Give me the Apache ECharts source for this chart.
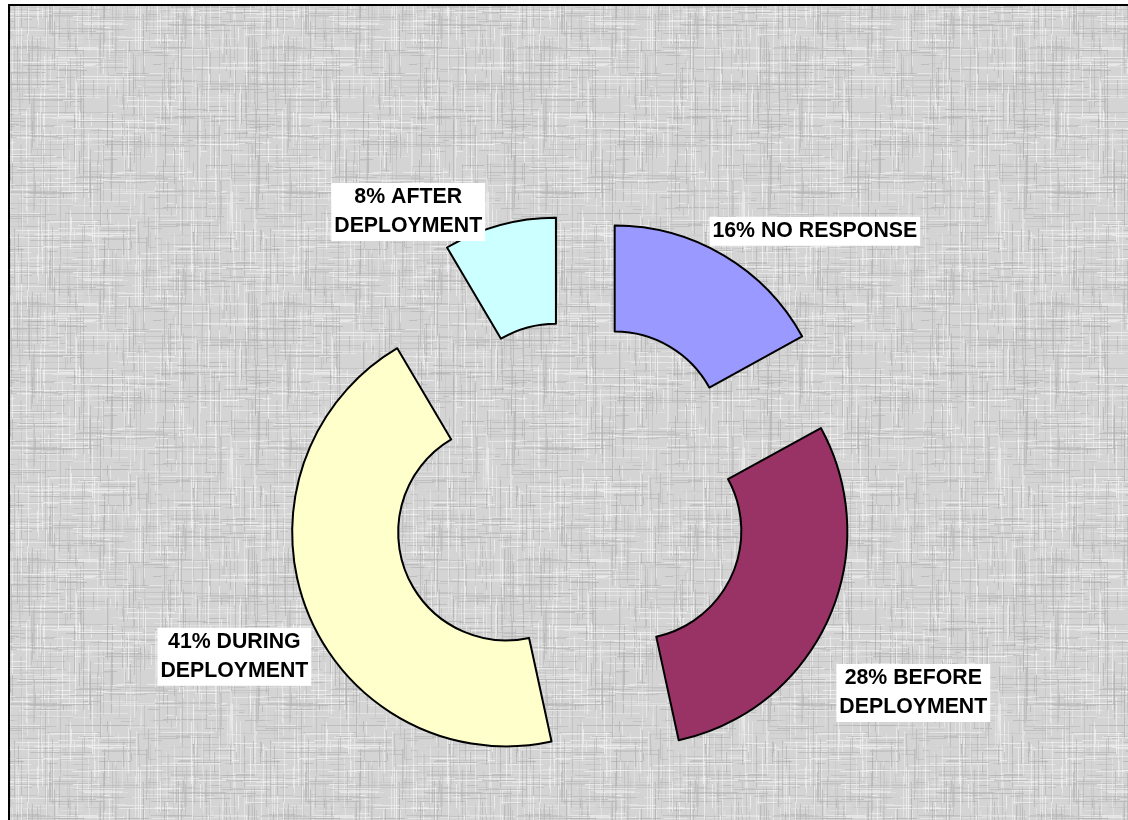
<!DOCTYPE html>
<html><head><meta charset="utf-8">
<script src="https://cdn.jsdelivr.net/npm/echarts@6/dist/echarts.min.js"></script>
<style>
html,body{margin:0;padding:0;background:#fff;width:1128px;height:820px;overflow:hidden}
#frame{position:absolute;left:8px;top:4px;width:1200px;height:900px;border-top:2px solid #000;border-left:2px solid #000;background-color:#d4d4d4}
#chart{position:absolute;left:0;top:0;width:1128px;height:820px}
</style></head><body>
<div id="frame"></div><div id="chart"></div>
<script>
// ---- data ----
// category labels as printed on the chart
const categories = ['16% NO RESPONSE', '28% BEFORE\nDEPLOYMENT', '41% DURING\nDEPLOYMENT', '8% AFTER\nDEPLOYMENT'];
// slice sizes (share of the ring)
const values = [17, 29.6, 44.9, 8.5];

// ---- style ----
const colors = ['#9999FF', '#993366', '#FFFFCC', '#CCFFFF'];
const explode = [76, 63, 75, 76];          // per-slice explosion distance (px)
const labelNudge = [[81, -7], [67, 65], [-54, 39], [-86, 6]];

// linen-like background texture (decoration only)
(function () {
  const c = document.createElement('canvas');
  c.width = 256; c.height = 256;
  const g = c.getContext('2d');
  g.fillStyle = '#d4d4d4'; g.fillRect(0, 0, 256, 256);
  let s = 12345;
  function rnd() { s = (s * 1103515245 + 12345) & 0x7fffffff; return s / 0x7fffffff; }
  for (let i = 0; i < 1100; i++) {
    const vertical = rnd() < 0.5;
    const p = Math.floor(rnd() * 256);
    const start = Math.floor(rnd() * 256);
    const len = 6 + Math.floor(rnd() * 60);
    const shade = rnd() < 0.55 ? Math.floor(170 + rnd() * 30) : Math.floor(226 + rnd() * 24);
    g.fillStyle = 'rgba(' + shade + ',' + shade + ',' + shade + ',0.6)';
    for (let k = 0; k < len; k++) {
      const q = (start + k) % 256;
      if (vertical) g.fillRect(p, q, 1, 1); else g.fillRect(q, p, 1, 1);
    }
  }
  document.getElementById('frame').style.backgroundImage = 'url(' + c.toDataURL() + ')';
})();

const chart = echarts.init(document.getElementById('chart'), null, { renderer: 'canvas' });

// one pie series per visible slice, so each slice can carry its own explosion
const series = categories.map((_, k) => ({
  type: 'pie',
  center: [576, 505],
  radius: [108, 214],
  startAngle: 90,
  clockwise: true,
  silent: true,
  selectedMode: 'multiple',
  selectedOffset: explode[k],
  avoidLabelOverlap: false,
  emphasis: { scale: false, disabled: true },
  labelLine: { show: false, length: 20, length2: 0 },
  labelLayout: function (params) {
    const n = labelNudge[params.dataIndex];
    return { dx: n[0], dy: n[1], align: 'center', verticalAlign: 'middle' };
  },
  data: categories.map((name, i) => ({
    name: name,
    value: values[i],
    selected: i === k,
    itemStyle: i === k
      ? { color: colors[i], borderColor: '#000', borderWidth: 2 }
      : { color: 'rgba(0,0,0,0)', borderWidth: 0 },
    label: i === k ? {
      show: true,
      position: 'outside',
      formatter: '{b}',
      fontFamily: 'Liberation Sans, Arial, sans-serif',
      fontWeight: 'bold',
      fontSize: 21.3,
      lineHeight: 29,
      color: '#000',
      backgroundColor: '#fff',
      padding: [0, 3],
      distanceToLabelLine: 0
    } : { show: false }
  }))
}));

chart.setOption({ animation: false, backgroundColor: 'transparent', series: series });
</script>
</body></html>
